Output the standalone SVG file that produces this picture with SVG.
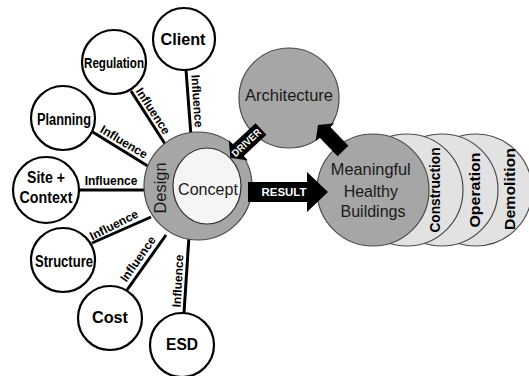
<svg xmlns="http://www.w3.org/2000/svg" width="529" height="376" viewBox="0 0 529 376">
  <style>
    .node { fill: #ffffff; stroke: #000000; stroke-width: 2.2; }
    .gray { fill: #a6a6a6; stroke: #4a4a4a; stroke-width: 1.2; }
    .light { fill: #e2e2e2; stroke: #4a4a4a; stroke-width: 1.2; }
    .link { stroke: #000000; stroke-width: 3; fill: none; }
    .lbl { font-family: "Liberation Sans", Arial, sans-serif; font-weight: bold; fill: #000000; text-anchor: middle; }
    .infl { font-family: "Liberation Sans", Arial, sans-serif; font-weight: bold; font-size: 12px; fill: #000000; text-anchor: middle; }
    .reg { font-family: "Liberation Sans", Arial, sans-serif; fill: #1a1a1a; text-anchor: middle; }
    .arrow { fill: #000000; }
    .arrtxt { font-family: "Liberation Sans", Arial, sans-serif; font-weight: bold; fill: #ffffff; text-anchor: middle; }
  </style>

  <!-- Influence connectors into the design ring -->
  <g id="connectors">
    <line class="link" x1="186" y1="70" x2="191" y2="136"/>
    <line class="link" x1="131" y1="91" x2="167" y2="147"/>
    <line class="link" x1="91" y1="131" x2="151" y2="168"/>
    <line class="link" x1="79" y1="190" x2="148" y2="190"/>
    <line class="link" x1="92" y1="243" x2="151" y2="217"/>
    <line class="link" x1="127" y1="290" x2="166" y2="235"/>
    <line class="link" x1="184" y1="313" x2="189" y2="236"/>
    <text class="infl" transform="translate(197,101) rotate(86)" dy="4">Influence</text>
    <text class="infl" transform="translate(153,111) rotate(57)" dy="4">Influence</text>
    <text class="infl" transform="translate(124,142) rotate(31)" dy="4">Influence</text>
    <text class="infl" x="111" y="185">Influence</text>
    <text class="infl" transform="translate(114,225) rotate(-27)" dy="4">Influence</text>
    <text class="infl" transform="translate(138,259) rotate(-55)" dy="4">Influence</text>
    <text class="infl" transform="translate(178,281) rotate(-87)" dy="4">Influence</text>
  </g>

  <!-- Influencing factors -->
  <g id="client">
    <circle class="node" cx="184" cy="39" r="31"/>
    <text class="lbl" x="183" y="45" font-size="16" textLength="45" lengthAdjust="spacingAndGlyphs">Client</text>
  </g>
  <g id="regulation">
    <circle class="node" cx="114" cy="62" r="32"/>
    <text class="lbl" x="114" y="68" font-size="15" textLength="60" lengthAdjust="spacingAndGlyphs">Regulation</text>
  </g>
  <g id="planning">
    <circle class="node" cx="63" cy="118" r="32"/>
    <text class="lbl" x="64" y="125" font-size="16" textLength="54" lengthAdjust="spacingAndGlyphs">Planning</text>
  </g>
  <g id="site-context">
    <circle class="node" cx="46" cy="190" r="33"/>
    <text class="lbl" x="46" y="183" font-size="16" textLength="38" lengthAdjust="spacingAndGlyphs">Site +</text>
    <text class="lbl" x="46" y="203" font-size="16" textLength="53" lengthAdjust="spacingAndGlyphs">Context</text>
  </g>
  <g id="structure">
    <circle class="node" cx="63" cy="260" r="32"/>
    <text class="lbl" x="64" y="267" font-size="16" textLength="58" lengthAdjust="spacingAndGlyphs">Structure</text>
  </g>
  <g id="cost">
    <circle class="node" cx="110" cy="318" r="32"/>
    <text class="lbl" x="110" y="323" font-size="16" textLength="36" lengthAdjust="spacingAndGlyphs">Cost</text>
  </g>
  <g id="esd">
    <circle class="node" cx="182" cy="345" r="32"/>
    <text class="lbl" x="182" y="350" font-size="16" textLength="32" lengthAdjust="spacingAndGlyphs">ESD</text>
  </g>

  <!-- Design ring with concept core -->
  <g id="design">
    <circle class="gray" cx="198" cy="186" r="54"/>
    <text class="reg" transform="translate(166,188) rotate(-90)" font-size="17" fill="#262626" textLength="51" lengthAdjust="spacingAndGlyphs">Design</text>
  </g>
  <g id="concept">
    <ellipse cx="207" cy="186" rx="34" ry="38" fill="#f5f5f5" stroke="#333333" stroke-width="1.2"/>
    <text class="reg" x="208" y="195" font-size="17" textLength="60" lengthAdjust="spacingAndGlyphs">Concept</text>
  </g>

  <g id="architecture">
    <circle class="gray" cx="289" cy="98" r="50"/>
    <text class="reg" x="289" y="101" font-size="16" textLength="88" lengthAdjust="spacingAndGlyphs">Architecture</text>
  </g>

  <!-- Building life-cycle stack -->
  <g id="demolition">
    <circle class="light" cx="476" cy="190" r="56"/>
    <text class="lbl" transform="translate(515,189) rotate(-90)" font-size="15" textLength="82" lengthAdjust="spacingAndGlyphs" fill="#111">Demolition</text>
  </g>
  <g id="operation">
    <circle class="light" cx="442" cy="190" r="56"/>
    <text class="lbl" transform="translate(480,190) rotate(-90)" font-size="15" textLength="75" lengthAdjust="spacingAndGlyphs" fill="#111">Operation</text>
  </g>
  <g id="construction">
    <circle class="light" cx="407" cy="190" r="56"/>
    <text class="lbl" transform="translate(440,190) rotate(-90)" font-size="15" textLength="85" lengthAdjust="spacingAndGlyphs" fill="#111">Construction</text>
  </g>
  <g id="buildings">
    <circle class="gray" cx="373" cy="190" r="56"/>
    <text class="reg" font-size="16">
      <tspan x="373" y="175" textLength="80" lengthAdjust="spacingAndGlyphs">Meaningful</tspan>
      <tspan x="373" y="197">Healthy</tspan>
      <tspan x="373" y="217">Buildings</tspan>
    </text>
  </g>

  <!-- Block arrows -->
  <g id="arrows">
    <g id="driver" transform="translate(261,129) rotate(137)">
      <polygon class="arrow" points="0,-8 31,-8 31,-14 42,0 31,14 31,8 0,8"/>
      <text class="arrtxt" transform="translate(20,0) rotate(180)" dy="3.5" font-size="10" textLength="36" lengthAdjust="spacingAndGlyphs">DRIVER</text>
    </g>
    <g id="result">
      <polygon class="arrow" points="248,182 307,182 307,172 328,192 307,212 307,202 248,202"/>
      <text class="arrtxt" x="284" y="196" font-size="11" textLength="45" lengthAdjust="spacingAndGlyphs">RESULT</text>
    </g>
    <g id="feedback" transform="translate(343,151) rotate(226)">
      <polygon class="arrow" points="0,-7.5 26,-7.5 26,-13 36,0 26,13 26,7.5 0,7.5"/>
    </g>
  </g>
</svg>
